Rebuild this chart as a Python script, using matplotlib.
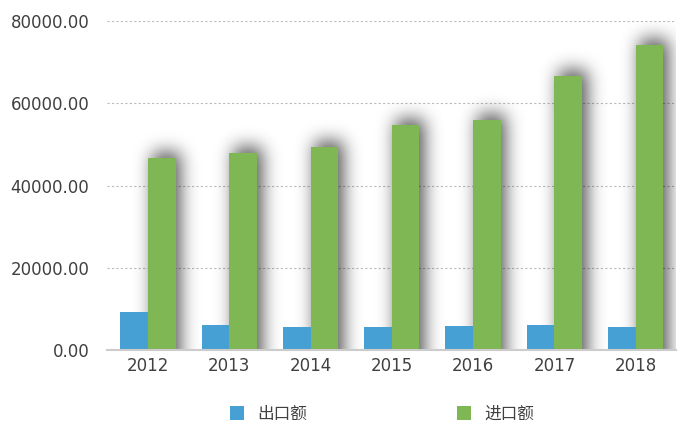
import numpy as np
import matplotlib.pyplot as plt
from matplotlib.patches import Patch

plt.rcParams['font.family'] = ['DejaVu Sans', 'Noto Sans CJK SC']

# данные
years = ['2012', '2013', '2014', '2015', '2016', '2017', '2018']
export_vals = [9240, 6080, 5670, 5670, 5910, 6080, 5670]
import_vals = [46780, 47920, 49380, 54800, 56020, 66650, 74260]
labels = ['出口额', '进口额']
colors = ['#46a0d4', '#7eb754']

fig = plt.figure(figsize=(6.9, 4.3), dpi=100)
ax = fig.add_axes([0.1556, 0.186, 0.8246, 0.765])

x = np.arange(len(years))
w = 0.34

ax.set_xlim(-0.5, len(years) - 0.5)
ax.set_ylim(0, 80000)


def gauss_blur(img, sigma):
    """Размытие по Гауссу (раздельная свёртка)"""
    r = int(3 * sigma)
    t = np.arange(-r, r + 1)
    k = np.exp(-t**2 / (2 * sigma**2))
    k /= k.sum()
    img = np.apply_along_axis(lambda m: np.convolve(m, k, mode='same'), 0, img)
    img = np.apply_along_axis(lambda m: np.convolve(m, k, mode='same'), 1, img)
    return img


# маска тени в пикселях осей
bb = ax.get_window_extent()
W, H = int(round(bb.width)), int(round(bb.height))
pad = 40
mask = np.zeros((H + 2 * pad, W + 2 * pad))
dx, dy = 5, 6  # смещение тени, px
for xi, v in zip(x, import_vals):
    (x0, y0), (x1, y1) = ax.transData.transform([(xi, 0), (xi + w, v)])
    c0 = int(round(x0 - bb.x0)) + dx + pad
    c1 = int(round(x1 - bb.x0)) + dx + pad
    r0 = int(round(y0 - bb.y0)) + pad
    r1 = int(round(y1 - bb.y0)) + dy + pad
    mask[r0 - pad:r1, c0:c1] = 1.0
mask = gauss_blur(mask, 9.0)[pad:pad + H, pad:pad + W]

shadow = np.zeros((H, W, 4))
shadow[..., 3] = np.clip(mask * 0.7, 0, 1)
ax.imshow(shadow, extent=(*ax.get_xlim(), *ax.get_ylim()), origin='lower',
          aspect='auto', interpolation='bilinear', zorder=1)

ax.bar(x - w / 2, export_vals, w, color=colors[0], zorder=3)
ax.bar(x + w / 2, import_vals, w, color=colors[1], zorder=3)

ax.set_yticks([0, 20000, 40000, 60000, 80000])
ax.set_yticklabels([f'{t:.2f}' for t in ax.get_yticks()])
ax.set_xticks(x)
ax.set_xticklabels(years)
ax.tick_params(axis='y', length=0, pad=13, labelsize=12, labelcolor='#404040')
ax.tick_params(axis='x', length=0, pad=5, labelsize=12, labelcolor='#404040')

ax.set_axisbelow(True)
ax.yaxis.grid(True, linestyle=(0, (2, 2)), color='#bbbbbb', linewidth=0.8)
for s in ['left', 'right', 'top']:
    ax.spines[s].set_visible(False)
ax.spines['bottom'].set_color('#cccccc')
ax.spines['bottom'].set_linewidth(1.5)
ax.spines['bottom'].set_zorder(4)

handles = [Patch(facecolor=c, edgecolor='none') for c in colors]
fig.legend(handles, labels, loc='center', bbox_to_anchor=(382 / 690, 1 - 413.7 / 430),
           ncol=2, frameon=False, fontsize=12, handlelength=0.84, handleheight=0.84,
           handletextpad=0.78, columnspacing=9.0, borderpad=0,
           labelcolor='#404040')

plt.savefig('out.png', dpi=100)
